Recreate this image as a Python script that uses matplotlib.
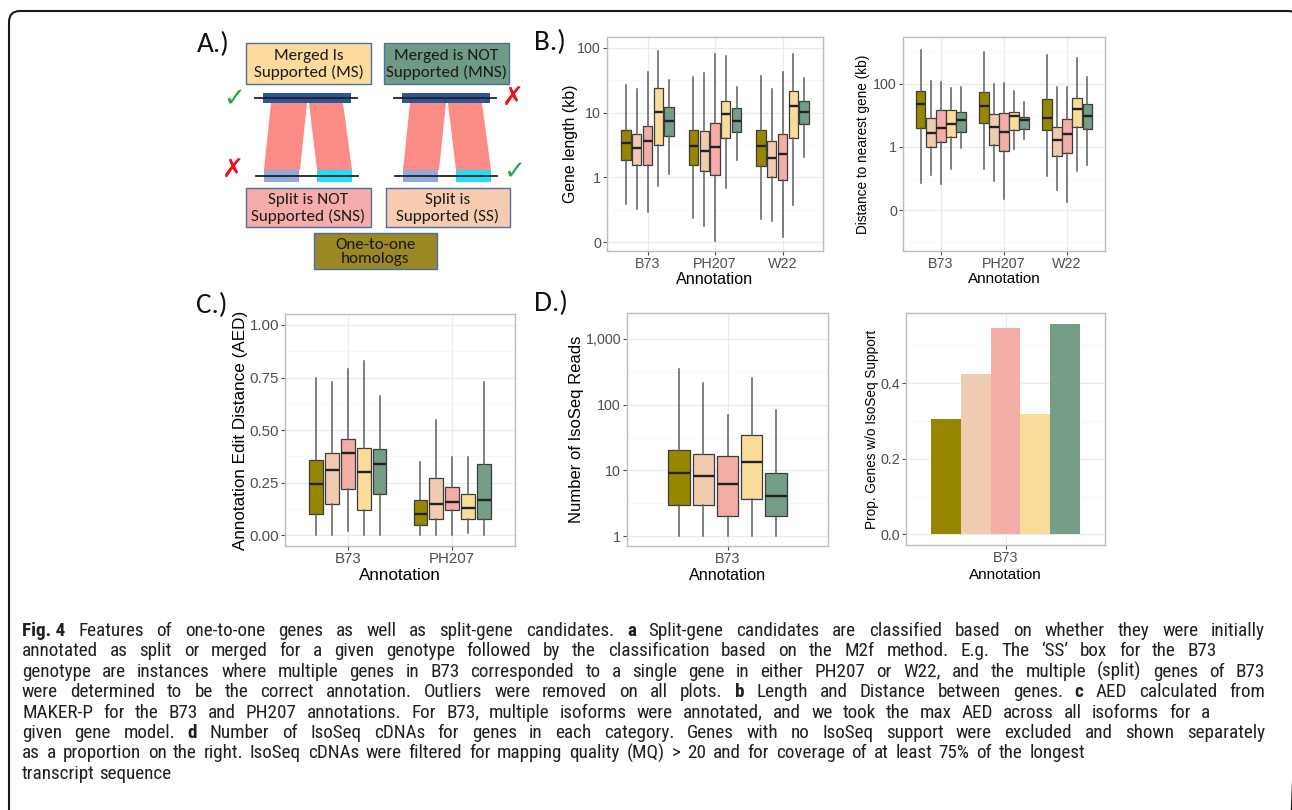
import matplotlib
matplotlib.use('Agg')
import matplotlib.pyplot as plt
from matplotlib.patches import FancyBboxPatch, Rectangle, Polygon
from matplotlib import font_manager
import numpy as np

W, H = 1292, 810

# ---------------- data ----------------
categories = ['One-to-one', 'SS', 'SNS', 'MS', 'MNS']
cat_colors = ['#978700', '#F1CBAF', '#F2ADA6', '#F9DC9A', '#749E87']

annot_b = ['B73', 'PH207', 'W22']
annot_c = ['B73', 'PH207']
annot_d = ['B73']

# Gene length (kb) box stats, rows = annotation, cols = category
len_lo = [[0.39, 0.33, 0.29, 0.74, 1.14], [0.24, 0.18, 0.106, 0.69, 1.87], [0.23, 0.21, 0.12, 0.38, 2.1]]
len_q1 = [[1.87, 1.57, 1.57, 3.2, 4.3], [1.55, 1.28, 1.1, 4.0, 5.0], [1.5, 1.0, 0.92, 4.1, 6.6]]
len_med = [[3.4, 2.8, 3.7, 10.1, 7.4], [3.1, 2.6, 2.9, 9.5, 7.4], [3.1, 2.0, 2.3, 12.7, 10.1]]
len_q3 = [[5.4, 4.6, 6.1, 24.3, 12.4], [5.4, 5.2, 6.8, 15.3, 11.7], [5.4, 3.6, 4.7, 21.5, 15.3]]
len_hi = [[26.7, 22.9, 42.7, 90, 31.8], [35, 41, 80, 74, 25], [37, 22.9, 42, 80, 34]]

# Distance to nearest gene (kb)
dist_lo = [[0.075, 0.127, 0.07, 0.2, 0.95], [0.2, 0.082, 0.022, 0.89, 1.8], [0.12, 0.043, 0.018, 0.18, 0.26]]
dist_q1 = [[4.0, 1.0, 1.4, 2.07, 2.9], [5.7, 1.13, 0.75, 3.4, 3.7], [3.4, 0.53, 0.66, 4.2, 3.6]]
dist_med = [[22, 2.8, 4.1, 5.2, 7.0], [20, 4.3, 3.05, 9.8, 7.0], [8.4, 1.7, 2.6, 15.9, 9.8]]
dist_q3 = [[57, 8.2, 15, 15, 12.7], [55, 10.7, 11.9, 12.4, 8.9], [32, 4.3, 7.85, 36, 22]]
dist_hi = [[1130, 118, 112, 75, 78], [1000, 100, 107, 59, 26], [785, 78, 78, 660, 163]]

# Annotation edit distance (AED)
aed_lo = [[0.0, 0.0, 0.02, 0.0, 0.0], [0.0, 0.0, 0.0, 0.011, 0.0]]
aed_q1 = [[0.10, 0.15, 0.22, 0.12, 0.198], [0.05, 0.078, 0.122, 0.078, 0.078]]
aed_med = [[0.243, 0.31, 0.392, 0.30, 0.341], [0.10, 0.15, 0.16, 0.13, 0.17]]
aed_q3 = [[0.36, 0.389, 0.456, 0.417, 0.408], [0.17, 0.27, 0.23, 0.198, 0.341]]
aed_hi = [[0.75, 0.73, 0.79, 0.83, 0.66], [0.35, 0.55, 0.37, 0.37, 0.73]]

# Number of IsoSeq reads (B73)
iso_lo = [[1, 1, 1, 1, 1]]
iso_q1 = [[3.0, 3.0, 2.0, 3.7, 2.0]]
iso_med = [[9.2, 8.2, 6.1, 13.4, 4.0]]
iso_q3 = [[20.2, 17.5, 16.3, 35, 9.2]]
iso_hi = [[345, 216, 69, 255, 84]]

# Proportion of genes without IsoSeq support (B73)
prop_no_iso = [0.305, 0.425, 0.546, 0.318, 0.557]

caption_lines = [
    [('Fig. 4', True), ('Features of one-to-one genes as well as split-gene candidates.', False), ('a', True),
     ('Split-gene candidates are classified based on whether they were initially', False)],
    [('annotated as split or merged for a given genotype followed by the classification based on the M2f method. E.g. The \u2018SS\u2019 box for the B73', False)],
    [('genotype are instances where multiple genes in B73 corresponded to a single gene in either PH207 or W22, and the multiple (split) genes of B73', False)],
    [('were determined to be the correct annotation. Outliers were removed on all plots.', False), ('b', True),
     ('Length and Distance between genes.', False), ('c', True), ('AED calculated from', False)],
    [('MAKER-P for the B73 and PH207 annotations. For B73, multiple isoforms were annotated, and we took the max AED across all isoforms for a', False)],
    [('given gene model.', False), ('d', True),
     ('Number of IsoSeq cDNAs for genes in each category. Genes with no IsoSeq support were excluded and shown separately', False)],
    [('as a proportion on the right. IsoSeq cDNAs were filtered for mapping quality (MQ) > 20 and for coverage of at least 75% of the longest', False)],
    [('transcript sequence', False)],
]
caption_line_ends = [1265, 1217, 1265, 1265, 1210, 1265, 1085, None]

# ---------------- fonts ----------------
names = {f.name for f in font_manager.fontManager.ttflist}
def pick(cands, default):
    for c in cands:
        if c in names:
            return c
    return default
AX_FONT = pick(['Liberation Sans', 'Arial'], 'DejaVu Sans')
CAP_FONT = pick(['Noto Sans ExtraCondensed', 'Liberation Sans Narrow', 'Roboto Condensed',
                 'Open Sans Condensed', 'Liberation Sans'], 'DejaVu Sans')
DIA_FONT = pick(['Carlito', 'Lato', 'Open Sans'], 'DejaVu Sans')
plt.rcParams['font.family'] = [AX_FONT, 'DejaVu Sans']

fig = plt.figure(figsize=(W / 100, H / 100), dpi=100)

# background axes in pixel coordinates
bg = fig.add_axes([0, 0, 1, 1], zorder=0)
bg.set_xlim(0, W)
bg.set_ylim(H, 0)
bg.axis('off')

# outer rounded frame
bg.add_patch(FancyBboxPatch((9, 11), 1290, 830, boxstyle='round,pad=0,rounding_size=11',
                            fill=False, edgecolor='#1a1a1a', linewidth=1.5))

# ---------------- panel A diagram ----------------
EDGE_A = '#4A6FA5'
dia_boxes = [
    ('Merged Is\nSupported (MS)', '#FDDB9D', 246, 43, 371, 84),
    ('Merged is NOT\nSupported (MNS)', '#6F9B84', 384, 43, 509, 84),
    ('Split is NOT\nSupported (SNS)', '#F5ADAA', 246, 188, 371, 227),
    ('Split is\nSupported (SS)', '#F7CBB0', 386, 188, 510, 227),
    ('One-to-one\nhomologs', '#9B8723', 314, 233, 437, 269),
]
for label, fc, x0, y0, x1, y1 in dia_boxes:
    bg.add_patch(Rectangle((x0, y0), x1 - x0, y1 - y0, facecolor=fc, edgecolor=EDGE_A, linewidth=1.0))
    bg.text((x0 + x1) / 2, (y0 + y1) / 2 + 1, label, ha='center', va='center', fontsize=12.3,
            family=DIA_FONT, color='#1a1a1a', linespacing=1.08)

for off in (0, 139):
    # pink links
    bg.add_patch(Polygon([(271 + off, 103), (307 + off, 103), (300 + off, 170), (264 + off, 170)],
                         closed=True, facecolor='#FA8B85', edgecolor='none'))
    bg.add_patch(Polygon([(309 + off, 103), (343 + off, 103), (352 + off, 170), (317 + off, 170)],
                         closed=True, facecolor='#FA8B85', edgecolor='none'))
    # top gene
    bg.plot([255 + off, 357 + off], [98, 98], color='#222222', lw=1.3)
    bg.add_patch(Rectangle((263 + off, 93), 88, 10, facecolor='#2F5597', edgecolor='none'))
    # bottom genes
    bg.plot([256 + off, 358 + off], [176, 176], color='#222222', lw=1.3)
    bg.add_patch(Rectangle((264 + off, 170), 35, 12, facecolor='#8FAADC', edgecolor='none'))
    bg.add_patch(Rectangle((317 + off, 170), 35, 12, facecolor='#22DBF7', edgecolor='none'))

GREEN, RED = '#22A84A', '#E8141E'
bg.text(234, 99, '\u2713', color=GREEN, fontsize=19, ha='center', va='center', family='DejaVu Sans', weight='bold')
bg.text(513, 98, '\u2717', color=RED, fontsize=19, ha='center', va='center', family='DejaVu Sans', weight='bold')
bg.text(233, 170, '\u2717', color=RED, fontsize=19, ha='center', va='center', family='DejaVu Sans', weight='bold')
bg.text(514, 172, '\u2713', color=GREEN, fontsize=19, ha='center', va='center', family='DejaVu Sans', weight='bold')

# panel letters
for lab, x, y in [('A.)', 197, 44), ('B.)', 534, 42), ('C.)', 196, 305), ('D.)', 534, 303)]:
    bg.text(x, y, lab, fontsize=21, family=DIA_FONT, ha='left', va='center', color='#111111')

# ---------------- chart helpers ----------------
def px_axes(l, t, r, b):
    return fig.add_axes([l / W, 1 - b / H, (r - l) / W, (b - t) / H], zorder=2)

def style(ax, tick_fs):
    ax.set_facecolor('white')
    for s in ax.spines.values():
        s.set_color('#BDBDBD')
        s.set_linewidth(1.0)
    ax.tick_params(which='major', length=2.8, width=0.8, color='#4D4D4D', labelcolor='#4D4D4D',
                   labelsize=tick_fs, pad=1.5)
    ax.tick_params(which='minor', length=0)
    ax.grid(True, which='major', color='#EBEBEB', linewidth=0.9)
    ax.grid(True, which='minor', axis='y', color='#F4F4F4', linewidth=0.5)
    ax.set_axisbelow(True)

def labels(ax, xl, yl, xfs, yfs, x_px_ylabel, y_px_xlabel, rect):
    l, t, r, b = rect
    ax.set_xlabel(xl, fontsize=xfs, color='black', va='center')
    ax.xaxis.set_label_coords(0.5, (b - y_px_xlabel) / (b - t))
    ax.set_ylabel(yl, fontsize=yfs, color='black', va='center')
    ax.yaxis.set_label_coords((x_px_ylabel - l) / (r - l), 0.5)

def boxes(ax, groups, lo, q1, med, q3, hi, step, width):
    for gi in range(len(groups)):
        for ci in range(len(categories)):
            pos = gi + 1 + (ci - 2) * step
            st = [dict(whislo=lo[gi][ci], q1=q1[gi][ci], med=med[gi][ci], q3=q3[gi][ci],
                       whishi=hi[gi][ci], fliers=[])]
            ax.bxp(st, positions=[pos], widths=width, patch_artist=True, showfliers=False,
                   showcaps=False, manage_ticks=False,
                   boxprops=dict(facecolor=cat_colors[ci], edgecolor='#3C3C3C', linewidth=0.9),
                   whiskerprops=dict(color='#5E5E5E', linewidth=1.1),
                   medianprops=dict(color='#222222', linewidth=1.7))
    ax.set_xlim(0.4, len(groups) + 0.6)
    ax.set_xticks(np.arange(1, len(groups) + 1), groups)

# ---------------- B1: gene length ----------------
rB1 = (607, 37, 823, 251)
ax = px_axes(*rB1)
style(ax, 10.3)
ax.set_yscale('log')
boxes(ax, annot_b, len_lo, len_q1, len_med, len_q3, len_hi, 0.16, 0.138)
ax.set_ylim(0.0736, 146)
ax.set_yticks([0.1, 1, 10, 100], ['0', '1', '10', '100'])
ax.set_yticks([10 ** -0.5, 10 ** 0.5, 10 ** 1.5], minor=True)
ax.set_yticklabels([], minor=True)
labels(ax, 'Annotation', 'Gene length (kb)', 11.6, 11.4, 570, 279, rB1)

# ---------------- B2: distance to nearest gene ----------------
rB2 = (903, 37, 1105, 251)
ax = px_axes(*rB2)
style(ax, 10.3)
ax.set_yscale('log')
boxes(ax, annot_b, dist_lo, dist_q1, dist_med, dist_q3, dist_hi, 0.16, 0.15)
ax.set_ylim(10 ** -3.284, 10 ** 3.47)
ax.set_yticks([0.01, 1, 100], ['0', '1', '100'])
ax.set_yticks([0.001, 0.1, 10, 1000], minor=True)
ax.set_yticklabels([], minor=True)
labels(ax, 'Annotation', 'Distance to nearest gene (kb)', 11.0, 9.8, 863, 279, rB2)

# ---------------- C: AED ----------------
rC = (285, 314, 515, 546)
ax = px_axes(*rC)
style(ax, 10.8)
boxes(ax, annot_c, aed_lo, aed_q1, aed_med, aed_q3, aed_hi, 0.152, 0.133)
ax.set_ylim(-0.051, 1.052)
ax.set_yticks([0, 0.25, 0.5, 0.75, 1.0], ['0.00', '0.25', '0.50', '0.75', '1.00'])
ax.set_yticks([0.125, 0.375, 0.625, 0.875], minor=True)
ax.set_yticklabels([], minor=True)
labels(ax, 'Annotation', 'Annotation Edit Distance (AED)', 12.3, 12.3, 240, 575, rC)

# ---------------- D1: IsoSeq reads ----------------
rD1 = (627, 313, 828, 546)
ax = px_axes(*rD1)
style(ax, 10.3)
ax.set_yscale('log')
boxes(ax, annot_d, iso_lo, iso_q1, iso_med, iso_q3, iso_hi, 0.145, 0.127)
ax.set_ylim(10 ** (-30 / 197), 10 ** ((737 - 68) / 197))
ax.set_yticks([1, 10, 100, 1000], ['1', '10', '100', '1,000'])
ax.set_yticks([10 ** 0.5, 10 ** 1.5, 10 ** 2.5], minor=True)
ax.set_yticklabels([], minor=True)
labels(ax, 'Annotation', 'Number of IsoSeq Reads', 11.6, 12.0, 577, 575, rD1)

# ---------------- D2: proportion without IsoSeq ----------------
rD2 = (906, 313, 1105, 545)
ax = px_axes(*rD2)
style(ax, 10.3)
bar_w = 0.18
bx = 1 + (np.arange(len(categories)) - 2) * bar_w
ax.bar(bx, prop_no_iso, width=bar_w, color=cat_colors, edgecolor='none')
ax.set_xlim(0.4, 1.6)
ax.set_xticks([1], annot_d)
ax.set_ylim(-0.0279, 0.585)
ax.set_yticks([0, 0.2, 0.4], ['0.0', '0.2', '0.4'])
ax.set_yticks([0.1, 0.3, 0.5], minor=True)
ax.set_yticklabels([], minor=True)
labels(ax, 'Annotation', 'Prop. Genes w/o IsoSeq Support', 11.0, 9.8, 872, 575, rD2)

# ---------------- caption ----------------
renderer = fig.canvas.get_renderer()
fs_cap = 13.8
CAP_X0, CAP_Y0, CAP_DY = 22, 631, 20.4

def put_word(x, y, w, bold):
    return bg.text(x, y, w, fontsize=fs_cap, family=CAP_FONT, weight='bold' if bold else 'normal',
                   ha='left', va='center', color='#231F20')

def text_w(s, bold=False):
    t = put_word(0, 0, s, bold)
    w = t.get_window_extent(renderer).width
    t.remove()
    return w

space = text_w('x x') - text_w('xx')

for i, segs in enumerate(caption_lines):
    words = []
    for s, b in segs:
        if b:
            words.append((s, b))
        else:
            words.extend((w, b) for w in s.split(' '))
    widths = [text_w(w, b) for w, b in words]
    gap = space
    end = caption_line_ends[i]
    if end is not None and len(words) > 1:
        gap = max(space, (end - CAP_X0 - sum(widths)) / (len(words) - 1))
    x = CAP_X0
    y = CAP_Y0 + i * CAP_DY
    for (w, b), wd in zip(words, widths):
        put_word(x, y, w, b)
        x += wd + gap

fig.savefig('out.png', dpi=100)
